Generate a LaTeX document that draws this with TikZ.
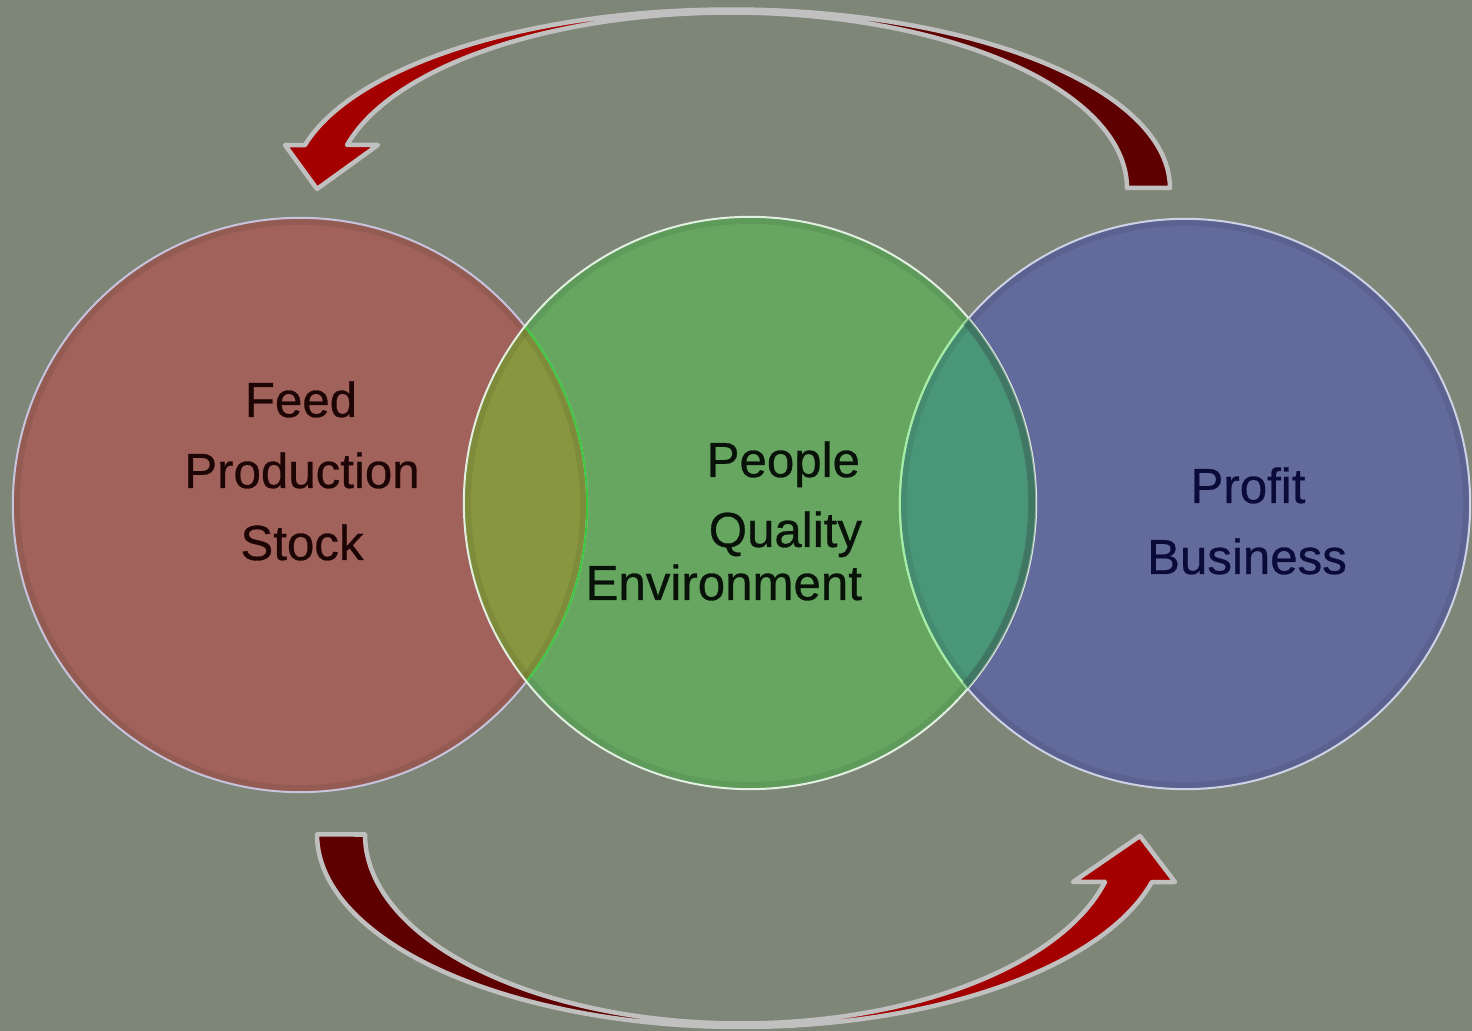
\documentclass[tikz,border=0pt]{standalone}
\usepackage{fontspec}
\setmainfont{Liberation Sans}
\newfontfamily\lblfont[FakeBold=0.6]{Liberation Sans}
\definecolor{bg}{HTML}{7E8678}
\definecolor{redfill}{HTML}{A0625A}
\definecolor{greenfill}{HTML}{66A661}
\definecolor{bluefill}{HTML}{636A9C}
\definecolor{rgfill}{HTML}{88963F}
\definecolor{gbfill}{HTML}{4A9678}
\definecolor{arrowbright}{HTML}{A50000}
\definecolor{arrowdark}{HTML}{5E0000}
\definecolor{arrowline}{HTML}{C0C0C0}
\definecolor{redtxt}{HTML}{1E0505}
\definecolor{greentxt}{HTML}{081208}
\definecolor{bluetxt}{HTML}{0B0B3A}
\begin{document}
\begin{tikzpicture}[x=0.01cm,y=-0.01cm,line join=round,
  lbl/.style={font=\lblfont\fontsize{14}{17}\selectfont, inner sep=0pt, outer sep=0pt},
  rim/.style={line width=0.14cm, black, opacity=0.07},
  outl/.style={line width=0.02cm}]
\fill[bg] (0,0) rectangle (1472,1031);
\useasboundingbox (0,0) rectangle (1472,1031);

% circles
\fill[redfill] (300,505) circle[radius=2.87cm];
\fill[bluefill] (1185,504) circle[radius=2.85cm];
\fill[greenfill] (750,503) circle[radius=2.86cm];
\begin{scope}
  \clip (300,505) circle[radius=2.87cm];
  \fill[rgfill] (750,503) circle[radius=2.86cm];
\end{scope}
\begin{scope}
  \clip (1185,504) circle[radius=2.85cm];
  \fill[gbfill] (750,503) circle[radius=2.86cm];
\end{scope}
% inner darker rims
\begin{scope}
  \clip (300,505) circle[radius=2.87cm];
  \draw[rim] (300,505) circle[radius=2.87cm];
\end{scope}
\begin{scope}
  \clip (1185,504) circle[radius=2.85cm];
  \draw[rim] (1185,504) circle[radius=2.85cm];
\end{scope}
\begin{scope}
  \clip (750,503) circle[radius=2.86cm];
  \draw[rim] (750,503) circle[radius=2.86cm];
\end{scope}
% outlines
\draw[outl, color={rgb,255:red,200;green,196;blue,222}] (300,505) circle[radius=2.87cm];
\draw[outl, color={rgb,255:red,205;green,210;blue,230}] (1185,504) circle[radius=2.85cm];
\begin{scope}
  \clip (750,503) circle[radius=2.86cm];
  \draw[outl, color={rgb,255:red,60;green,200;blue,60}] (300,505) circle[radius=2.87cm];
  \draw[outl, color={rgb,255:red,160;green,240;blue,160}] (1185,504) circle[radius=2.85cm];
\end{scope}
\draw[outl, color={rgb,255:red,225;green,240;blue,225}] (750,503) circle[radius=2.86cm];
\begin{scope}
  \clip (1185,504) circle[radius=2.85cm];
  \draw[line width=0.08cm, color={rgb,255:red,60;green,100;blue,90}, opacity=0.5] (750,503) circle[radius=2.82cm];
\end{scope}

% top arrow
\begin{scope}
  \clip (1170,188) -- plot[domain=360:193.9,samples=100] ({731+439*cos(\x)},{188+178.5*sin(\x)})
    -- (285,145) -- (317,189) -- (378,145) -- (347,145)
    -- plot[domain=194.2:360,samples=100] ({731+396*cos(\x)},{188+175.5*sin(\x)}) -- cycle;
  \fill[arrowbright] (200,0) rectangle (731,260);
  \fill[arrowdark] (731,0) rectangle (1250,260);
\end{scope}
\draw[arrowline, line width=0.045cm]
  (1170,188) -- plot[domain=360:193.9,samples=100] ({731+439*cos(\x)},{188+178.5*sin(\x)})
    -- (285,145) -- (317,189) -- (378,145) -- (347,145)
    -- plot[domain=194.2:360,samples=100] ({731+396*cos(\x)},{188+175.5*sin(\x)}) -- cycle;

% bottom arrow
\begin{scope}
  \clip (317,834.5) -- plot[domain=180:14.3,samples=100] ({741+424*cos(\x)},{834.5+192.5*sin(\x)})
    -- (1175,882) -- (1140,836) -- (1073,882) -- (1105,882)
    -- plot[domain=14.5:180,samples=100] ({741+376*cos(\x)},{834.5+189*sin(\x)}) -- cycle;
  \fill[arrowdark] (250,780) rectangle (741,1040);
  \fill[arrowbright] (741,780) rectangle (1250,1040);
\end{scope}
\draw[arrowline, line width=0.045cm]
  (317,834.5) -- plot[domain=180:14.3,samples=100] ({741+424*cos(\x)},{834.5+192.5*sin(\x)})
    -- (1175,882) -- (1140,836) -- (1073,882) -- (1105,882)
    -- plot[domain=14.5:180,samples=100] ({741+376*cos(\x)},{834.5+189*sin(\x)}) -- cycle;

% texts
\node[lbl, anchor=base, text=redtxt] (feed) at (301,417) {Feed};
\node[lbl, anchor=base, text=redtxt] (production) at (302,488) {Production};
\node[lbl, anchor=base, text=redtxt] (stock) at (302,560) {Stock};
\node[lbl, anchor=base east, text=greentxt] (people) at (860,477) {People};
\node[lbl, anchor=base east, text=greentxt] (quality) at (862,547) {Quality};
\node[lbl, anchor=base east, text=greentxt] (environment) at (862,600) {Environment};
\node[lbl, anchor=base, text=bluetxt] (profit) at (1248,503) {Profit};
\node[lbl, anchor=base, text=bluetxt] (business) at (1247,574) {Business};
\end{tikzpicture}
\end{document}
